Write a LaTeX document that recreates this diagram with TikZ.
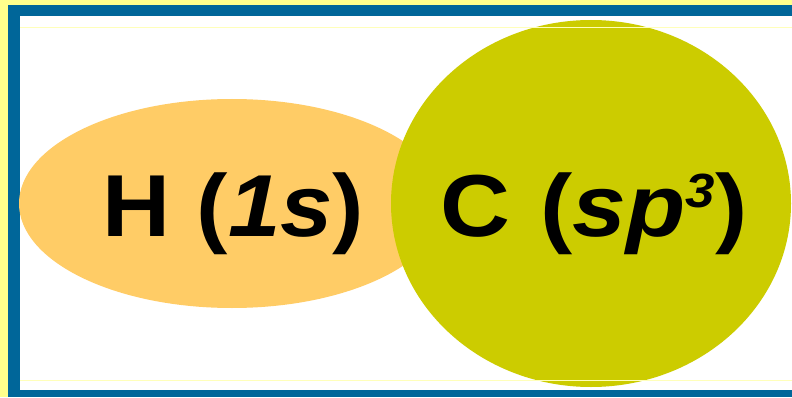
\documentclass[tikz,border=0pt]{standalone}
\usepackage{fontspec}
\setsansfont{Liberation Sans}
\usepackage{tikz}
\usetikzlibrary{shapes.geometric}
\definecolor{Pale}{HTML}{FFFF8C}
\definecolor{Frame}{HTML}{006699}
\definecolor{Orbit}{HTML}{FFCC66}
\definecolor{Olive}{HTML}{CCCC00}
\newcommand{\supthree}{\raisebox{29pt}{\fontsize{48}{50}\selectfont\itshape 3}}
\tikzset{
  blob/.style={ellipse, draw=none, inner sep=0pt},
  hyd/.style={blob, fill=Orbit, minimum width=426pt, minimum height=209pt},
  carb/.style={blob, fill=Olive, minimum width=400pt, minimum height=367pt},
  lbl/.style={font=\sffamily\bfseries\fontsize{88}{96}\selectfont, inner sep=0pt, text=black, anchor=base},
  rule/.style={draw=Pale!60, line width=0.8pt},
}
\begin{document}
\begin{tikzpicture}[x=1pt, y=1pt]
  \useasboundingbox (0,0) rectangle (792,397);
  \fill[Pale] (0,0) rectangle (792,397);
  \fill[Frame] (8,0) rectangle (792,392);
  \fill[white] (20,7) rectangle (792,381);
  \node[hyd] (hatom) at (232,193.5) {};
  \node[carb] (carbon) at (591,193.5) {};
  \node[lbl] (hlabel) at (233.5,161) {\scalebox{1.07}[1]{H (\textit{1s})}};
  \node[lbl] (clabel) at (594,161) {\scalebox{1.1}[1]{C\hspace{3pt} (\textit{sp}\supthree)}};
  \coordinate (tl) at (20,370);
  \coordinate (tr) at (792,370);
  \coordinate (bl) at (20,17);
  \coordinate (br) at (792,17);
  \draw[rule] (tl) -- (tr);
  \draw[rule] (bl) -- (br);
\end{tikzpicture}
\end{document}
